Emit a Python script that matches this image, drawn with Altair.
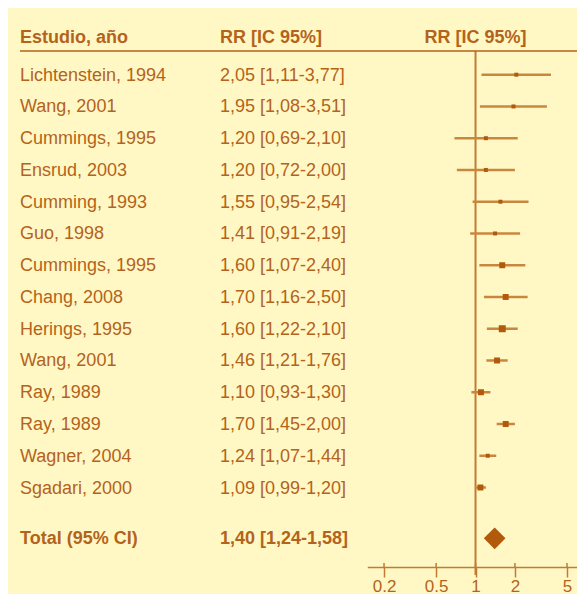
import altair as alt
import pandas as pd

# ---- data ----
estudios = ["Lichtenstein, 1994", "Wang, 2001", "Cummings, 1995", "Ensrud, 2003",
            "Cumming, 1993", "Guo, 1998", "Cummings, 1995", "Chang, 2008",
            "Herings, 1995", "Wang, 2001", "Ray, 1989", "Ray, 1989",
            "Wagner, 2004", "Sgadari, 2000"]
rr = [2.05, 1.95, 1.20, 1.20, 1.55, 1.41, 1.60, 1.70, 1.60, 1.46, 1.10, 1.70, 1.24, 1.09]
ic_inf = [1.11, 1.08, 0.69, 0.72, 0.95, 0.91, 1.07, 1.16, 1.22, 1.21, 0.93, 1.45, 1.07, 0.99]
ic_sup = [3.77, 3.51, 2.10, 2.00, 2.54, 2.19, 2.40, 2.50, 2.10, 1.76, 1.30, 2.00, 1.44, 1.20]
peso = [1.0, 1.0, 1.0, 1.0, 1.0, 1.0, 2.2, 2.2, 3.0, 2.2, 2.2, 2.2, 1.0, 2.2]  # relative study weight

total_label = "Total (95% CI)"
total_rr, total_inf, total_sup = 1.40, 1.24, 1.58

encabezados = ["Estudio, año", "RR [IC 95%]", "RR [IC 95%]"]
ticks = [0.2, 0.5, 1, 2, 5]

# ---- styling ----
FONT = "Liberation Sans"
TXT = "#B4631C"
MARK = "#B25A0C"
CI = "#C8873F"
LINE = "#C07B36"
BG = "#FFF8C4"


def fmt(v):
    return f"{v:.2f}".replace(".", ",")


df = pd.DataFrame({
    "estudio": estudios, "rr": rr, "lo": ic_inf, "hi": ic_sup, "peso": peso,
    "fila": list(range(len(estudios))),
})
df["txt"] = [f"{fmt(a)} [{fmt(b)}-{fmt(c)}]" for a, b, c in zip(rr, ic_inf, ic_sup)]

tot = pd.DataFrame({
    "estudio": [total_label], "rr": [total_rr], "lo": [total_inf], "hi": [total_sup],
    "fila": [len(estudios) + 0.6],
    "txt": [f"{fmt(total_rr)} [{fmt(total_inf)}-{fmt(total_sup)}]"],
})

xscale = alt.Scale(type="log", domain=[0.149, 6.36], range=[359.3, 572.7], nice=False)
yscale = alt.Scale(domain=[0, len(estudios) - 1], range=[66.7, 479.5], nice=False, zero=False)
xaxis = alt.Axis(values=ticks, format="~g", title=None, grid=False, domain=True,
                 domainColor=LINE, domainWidth=1.5, tickColor=LINE, tickWidth=1.5,
                 tickSize=10, labelPadding=1, labelFontSize=17, labelFont=FONT,
                 labelColor=TXT, labelOverlap=False, labelFlush=False)


def X(field, **kw):
    return alt.X(field, scale=xscale, axis=xaxis, **kw)


Y = alt.Y("fila:Q", scale=yscale, axis=None)

base = alt.Chart(df)

ci = base.mark_rule(color=CI, strokeWidth=2.5).encode(
    x=X("lo:Q"), x2="hi:Q", y=Y)

sq = base.mark_square(color=MARK, opacity=1).encode(
    x=X("rr:Q"), y=Y,
    size=alt.Size("peso:Q", scale=alt.Scale(domain=[1, 3], range=[16, 49]), legend=None))

names = base.mark_text(align="left", baseline="middle", font=FONT, fontSize=18,
                       color=TXT, dy=1).encode(
    x=alt.value(12), y=Y, text="estudio:N")

vals = base.mark_text(align="left", baseline="middle", font=FONT, fontSize=18,
                      color=TXT, dy=1).encode(
    x=alt.value(212), y=Y, text="txt:N")

tbase = alt.Chart(tot)
t_name = tbase.mark_text(align="left", baseline="middle", font=FONT, fontSize=18,
                         fontWeight="bold", color=TXT, dy=1).encode(
    x=alt.value(12), y=Y, text="estudio:N")
t_val = tbase.mark_text(align="left", baseline="middle", font=FONT, fontSize=18,
                        fontWeight="bold", color=TXT, dy=1).encode(
    x=alt.value(212), y=Y, text="txt:N")
t_dia = tbase.mark_point(shape="diamond", filled=True, color=MARK, opacity=1, size=470).encode(
    x=X("rr:Q"), y=Y)

hdf = pd.DataFrame({"h": encabezados})
h1 = alt.Chart(hdf.iloc[[0]]).mark_text(align="left", baseline="middle", font=FONT,
                                        fontSize=18, fontWeight="bold", color=TXT).encode(
    x=alt.value(12), y=alt.value(30), text="h:N")
h2 = alt.Chart(hdf.iloc[[1]]).mark_text(align="left", baseline="middle", font=FONT,
                                        fontSize=18, fontWeight="bold", color=TXT).encode(
    x=alt.value(212), y=alt.value(30), text="h:N")
h3 = alt.Chart(hdf.iloc[[2]]).mark_text(align="center", baseline="middle", font=FONT,
                                        fontSize=18, fontWeight="bold", color=TXT).encode(
    x=X("v:Q"), y=alt.value(30), text="h:N").transform_calculate(v="1")

underline = alt.Chart(hdf.iloc[[0]]).mark_rule(color=TXT, strokeWidth=1.5).encode(
    x=alt.value(12), x2=alt.value(569), y=alt.value(43))

vline = alt.Chart(hdf.iloc[[0]]).mark_rule(color=LINE, strokeWidth=2).encode(
    x=X("v:Q"), y=alt.value(43), y2=alt.value(567)).transform_calculate(v="1")

tick_up = alt.Chart(pd.DataFrame({"t": ticks})).mark_rule(color=LINE, strokeWidth=1.5).encode(
    x=X("t:Q"), y=alt.value(555), y2=alt.value(559))

chart = alt.layer(
    vline, underline, tick_up, ci, sq, names, vals, t_name, t_val, t_dia, h1, h2, h3
).properties(
    width=569, height=559, background=BG,
    padding={"left": 0, "top": 0, "right": 0, "bottom": 27},
    autosize=alt.AutoSizeParams(type="none"),
).configure_view(stroke=None, fill=BG)

chart.save("out.html", embed_options={"renderer": "svg", "actions": False})
